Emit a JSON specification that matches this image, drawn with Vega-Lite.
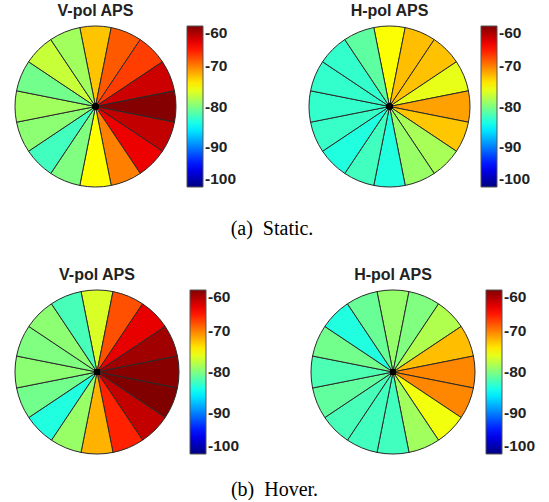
{
  "$schema": "https://vega.github.io/schema/vega-lite/v6.json",
  "padding": {"left": 13, "top": 3, "right": 0, "bottom": 0},
  "background": "white",
  "datasets": {
    "d": [
      {"p": "sv", "i": 1, "v": -72.7}, {"p": "sv", "i": 2, "v": -68.5}, {"p": "sv", "i": 3, "v": -67.4}, {"p": "sv", "i": 4, "v": -63.0},
      {"p": "sv", "i": 5, "v": -60.2}, {"p": "sv", "i": 6, "v": -62.6}, {"p": "sv", "i": 7, "v": -64.3}, {"p": "sv", "i": 8, "v": -70.0},
      {"p": "sv", "i": 9, "v": -75.0}, {"p": "sv", "i": 10, "v": -80.0}, {"p": "sv", "i": 11, "v": -82.5}, {"p": "sv", "i": 12, "v": -79.5},
      {"p": "sv", "i": 13, "v": -78.7}, {"p": "sv", "i": 14, "v": -80.5}, {"p": "sv", "i": 15, "v": -77.2}, {"p": "sv", "i": 16, "v": -78.7},
      {"p": "sh", "i": 1, "v": -75.1}, {"p": "sh", "i": 2, "v": -72.5}, {"p": "sh", "i": 3, "v": -72.6}, {"p": "sh", "i": 4, "v": -75.9},
      {"p": "sh", "i": 5, "v": -71.3}, {"p": "sh", "i": 6, "v": -72.8}, {"p": "sh", "i": 7, "v": -78.4}, {"p": "sh", "i": 8, "v": -79.0},
      {"p": "sh", "i": 9, "v": -83.75}, {"p": "sh", "i": 10, "v": -82.5}, {"p": "sh", "i": 11, "v": -83.75}, {"p": "sh", "i": 12, "v": -82.8},
      {"p": "sh", "i": 13, "v": -83.0}, {"p": "sh", "i": 14, "v": -83.0}, {"p": "sh", "i": 15, "v": -83.0}, {"p": "sh", "i": 16, "v": -81.3},
      {"p": "hv", "i": 1, "v": -76.5}, {"p": "hv", "i": 2, "v": -68.1}, {"p": "hv", "i": 3, "v": -64.1}, {"p": "hv", "i": 4, "v": -61.3},
      {"p": "hv", "i": 5, "v": -60.3}, {"p": "hv", "i": 6, "v": -60.0}, {"p": "hv", "i": 7, "v": -62.6}, {"p": "hv", "i": 8, "v": -66.3},
      {"p": "hv", "i": 9, "v": -72.0}, {"p": "hv", "i": 10, "v": -79.0}, {"p": "hv", "i": 11, "v": -83.75}, {"p": "hv", "i": 12, "v": -80.5},
      {"p": "hv", "i": 13, "v": -79.5}, {"p": "hv", "i": 14, "v": -80.0}, {"p": "hv", "i": 15, "v": -79.5}, {"p": "hv", "i": 16, "v": -82.2},
      {"p": "hh", "i": 1, "v": -79.2}, {"p": "hh", "i": 2, "v": -80.0}, {"p": "hh", "i": 3, "v": -78.1}, {"p": "hh", "i": 4, "v": -72.5},
      {"p": "hh", "i": 5, "v": -70.3}, {"p": "hh", "i": 6, "v": -70.3}, {"p": "hh", "i": 7, "v": -75.5}, {"p": "hh", "i": 8, "v": -78.7},
      {"p": "hh", "i": 9, "v": -82.5}, {"p": "hh", "i": 10, "v": -82.5}, {"p": "hh", "i": 11, "v": -82.2}, {"p": "hh", "i": 12, "v": -81.2},
      {"p": "hh", "i": 13, "v": -82.0}, {"p": "hh", "i": 14, "v": -80.5}, {"p": "hh", "i": 15, "v": -83.75}, {"p": "hh", "i": 16, "v": -80.9}
    ]
  },
  "config": {
    "view": {"stroke": null},
    "title": {"font": "Liberation Sans", "fontSize": 16, "fontWeight": "bold", "color": "#222222", "offset": 5},
    "legend": {
      "gradientLength": 161, "gradientThickness": 16, "labelFont": "Liberation Sans", "labelFontWeight": "bold",
      "labelFontSize": 15.5, "labelColor": "#222222", "gradientStrokeColor": "#555555", "gradientStrokeWidth": 1,
      "offset": 11, "padding": 0, "labelOffset": 9, "labelOverlap": false, "labelBaseline": "middle"
    }
  },
  "vconcat": [
    {
      "title": {"text": "(a)\u2002Static.", "orient": "bottom", "anchor": "middle", "font": "Liberation Serif", "fontWeight": "normal", "fontSize": 20, "color": "#000000", "offset": 30},
      "spacing": 70,
      "resolve": {"scale": {"color": "independent"}},
      "hconcat": [
        {
          "width": 161, "height": 161, "title": "V-pol APS",
          "data": {"name": "d"}, "transform": [{"filter": "datum.p == 'sv'"}],
          "layer": [
            {"mark": {"type": "arc", "outerRadius": 80.5, "stroke": "#2a2a2a", "strokeWidth": 1},
             "encoding": {
               "theta": {"aggregate": "count", "type": "quantitative", "stack": true, "scale": {"range": [-0.19635, 6.08684]}},
               "order": {"field": "i", "type": "quantitative"},
               "color": {"field": "v", "type": "quantitative", "scale": {"domain": [-100, -95, -85, -75, -65, -60], "range": ["#000080", "#0000ff", "#00ffff", "#ffff00", "#ff0000", "#800000"], "interpolate": "rgb"}, "legend": {"title": null, "values": [-100, -90, -80, -70, -60], "labelExpr": "'-' + (-datum.value)"}}
             }},
            {"mark": {"type": "arc", "outerRadius": 3, "fill": "#000000"}, "encoding": {}}
          ]
        },
        {
          "width": 161, "height": 161, "title": "H-pol APS",
          "data": {"name": "d"}, "transform": [{"filter": "datum.p == 'sh'"}],
          "layer": [
            {"mark": {"type": "arc", "outerRadius": 80.5, "stroke": "#2a2a2a", "strokeWidth": 1},
             "encoding": {
               "theta": {"aggregate": "count", "type": "quantitative", "stack": true, "scale": {"range": [-0.19635, 6.08684]}},
               "order": {"field": "i", "type": "quantitative"},
               "color": {"field": "v", "type": "quantitative", "scale": {"domain": [-100, -95, -85, -75, -65, -60], "range": ["#000080", "#0000ff", "#00ffff", "#ffff00", "#ff0000", "#800000"], "interpolate": "rgb"}, "legend": {"title": null, "values": [-100, -90, -80, -70, -60], "labelExpr": "'-' + (-datum.value)"}}
             }},
            {"mark": {"type": "arc", "outerRadius": 3, "fill": "#000000"}, "encoding": {}}
          ]
        }
      ]
    },
    {
      "title": {"text": "(b)\u2002Hover.", "orient": "bottom", "anchor": "middle", "font": "Liberation Serif", "fontWeight": "normal", "fontSize": 20, "color": "#000000", "offset": 24},
      "spacing": 69,
      "resolve": {"scale": {"color": "independent"}},
      "hconcat": [
        {
          "width": 164, "height": 164, "title": "V-pol APS",
          "data": {"name": "d"}, "transform": [{"filter": "datum.p == 'hv'"}],
          "layer": [
            {"mark": {"type": "arc", "outerRadius": 82, "stroke": "#2a2a2a", "strokeWidth": 1},
             "encoding": {
               "theta": {"aggregate": "count", "type": "quantitative", "stack": true, "scale": {"range": [-0.19635, 6.08684]}},
               "order": {"field": "i", "type": "quantitative"},
               "color": {"field": "v", "type": "quantitative", "scale": {"domain": [-100, -95, -85, -75, -65, -60], "range": ["#000080", "#0000ff", "#00ffff", "#ffff00", "#ff0000", "#800000"], "interpolate": "rgb"}, "legend": {"title": null, "values": [-100, -90, -80, -70, -60], "gradientLength": 164, "labelExpr": "'-' + (-datum.value)"}}
             }},
            {"mark": {"type": "arc", "outerRadius": 3, "fill": "#000000"}, "encoding": {}}
          ]
        },
        {
          "width": 164, "height": 164, "title": "H-pol APS",
          "data": {"name": "d"}, "transform": [{"filter": "datum.p == 'hh'"}],
          "layer": [
            {"mark": {"type": "arc", "outerRadius": 82, "stroke": "#2a2a2a", "strokeWidth": 1},
             "encoding": {
               "theta": {"aggregate": "count", "type": "quantitative", "stack": true, "scale": {"range": [-0.19635, 6.08684]}},
               "order": {"field": "i", "type": "quantitative"},
               "color": {"field": "v", "type": "quantitative", "scale": {"domain": [-100, -95, -85, -75, -65, -60], "range": ["#000080", "#0000ff", "#00ffff", "#ffff00", "#ff0000", "#800000"], "interpolate": "rgb"}, "legend": {"title": null, "values": [-100, -90, -80, -70, -60], "gradientLength": 164, "labelExpr": "'-' + (-datum.value)"}}
             }},
            {"mark": {"type": "arc", "outerRadius": 3, "fill": "#000000"}, "encoding": {}}
          ]
        }
      ]
    }
  ],
  "spacing": 28,
  "resolve": {"scale": {"color": "independent"}}
}
